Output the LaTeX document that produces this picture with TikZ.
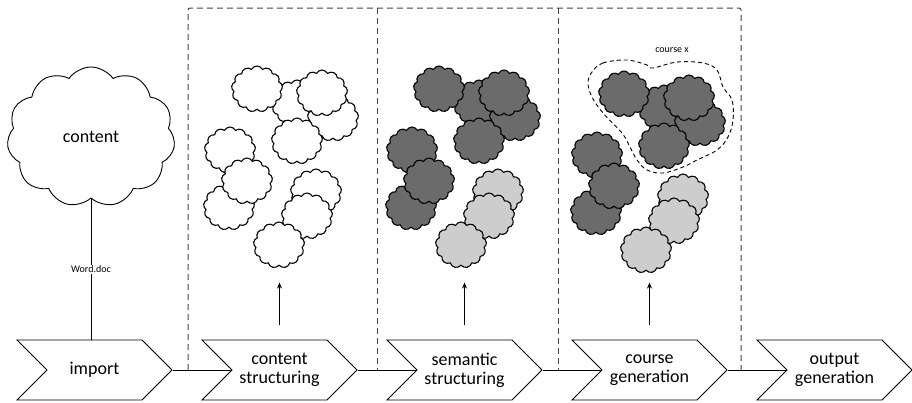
\documentclass[tikz,border=0pt]{standalone}
\usepackage{fontspec}
\setmainfont{Carlito}
\usetikzlibrary{shapes.symbols,arrows.meta}

\definecolor{puffdark}{HTML}{6B6B6B}
\definecolor{pufflight}{HTML}{CDCDCD}
\definecolor{frame}{HTML}{444444}

\newcommand\chevfont{\fontsize{18}{19}\selectfont}
\newcommand\smallfont{\fontsize{10}{12}\selectfont}

\tikzset{
  chev/.style={signal, signal from=west, signal to=east, signal pointer angle=90,
    draw=black, line width=0.9pt, fill=white, minimum width=155pt, minimum height=60pt,
    inner sep=0pt, align=center, font=\chevfont},
  puff/.style={cloud, cloud puffs=13, cloud puff arc=125, cloud ignores aspect,
    draw=black, line width=1.1pt, minimum width=51pt, minimum height=46pt, inner sep=0pt},
  bigcloud/.style={cloud, cloud puffs=11, cloud puff arc=110, cloud ignores aspect,
    draw=black, line width=0.9pt, minimum width=168pt, minimum height=140pt, inner sep=0pt,
    font=\chevfont},
  stage/.style={dashed, dash pattern=on 6pt off 4pt, draw=frame, line width=1pt},
  flow/.style={draw=black, line width=0.9pt},
  lift/.style={draw=black, line width=0.9pt, -{Stealth[length=6pt,width=5pt]}},
  blob/.style={dashed, dash pattern=on 4pt off 3pt, draw=black, line width=0.9pt},
}

% one set of eleven small clouds; #1 name prefix, #2/#3 shift, #4 upper fill, #5 lower fill
\newcommand\puffset[5]{%
  \begin{scope}[shift={(#2,#3)}]
    \foreach \n/\px/\py/\f in {2/297/103/#4, 4/333/118/#4, 1/257/89/#4, 3/322/93/#4,
        5/297/141/#4, 6/230/150/#4, 7/229/207/#4, 8/247/181/#4,
        9/316/192/#5, 10/307/216/#5, 11/279/245/#5}
      \node[puff, fill=\f] (#1\n) at (\px,\py) {};
  \end{scope}}

\begin{document}
\begin{tikzpicture}[x=1pt, y=-1pt]
  \useasboundingbox (0,0) rectangle (912,402);

  % stage frames
  \draw[stage, rounded corners=2pt] (188,370) -- (188,8) -- (741,8) -- (741,370);
  \draw[stage] (377,8) -- (377,370);
  \draw[stage] (558,8) -- (558,370);

  % process chevrons
  \node[chev] (imp) at (94.5,370) {import};
  \node[chev] (cst) at (279.5,370) {content\\structuring};
  \node[chev] (sst) at (464.5,370) {semantic\\structuring};
  \node[chev] (cgen) at (649.5,370) {course\\generation};
  \node[chev] (ogen) at (834.5,370) {output\\generation};

  \draw[flow] (imp.east) -- (cst.west);
  \draw[flow] (cst.east) -- (sst.west);
  \draw[flow] (sst.east) -- (cgen.west);
  \draw[flow] (cgen.east) -- (ogen.west);

  % source content
  \node[bigcloud] (src) at (91,137) {content};
  \draw[flow] (src.south) -- node[fill=white, inner sep=1pt, font=\smallfont] (wdoc) {Word.doc} (src.south |- imp.north);

  % content pieces per stage
  \puffset{a}{0}{0}{white}{white}
  \puffset{b}{182}{0}{puffdark}{pufflight}
  \puffset{c}{367}{5}{puffdark}{pufflight}

  % course boundary
  \draw[blob] plot[smooth cycle, tension=0.6] coordinates {
    (592,72) (603,63) (627,60) (647,65) (653,68) (677,62) (703,63) (717,70)
    (723,87) (732,100) (733,120) (728,137) (717,150) (697,160) (683,167)
    (663,173) (647,170) (637,160) (630,147) (622,133) (603,113) (592,97) (588,83)};
  \node[font=\smallfont] (cx) at (672,50) {course x};

  % arrows from stage to content
  \draw[lift] ([yshift=15pt]cst.north) -- ([yshift=57pt]cst.north);
  \draw[lift] ([yshift=15pt]sst.north) -- ([yshift=57pt]sst.north);
  \draw[lift] ([yshift=15pt]cgen.north) -- ([yshift=57pt]cgen.north);
\end{tikzpicture}
\end{document}
